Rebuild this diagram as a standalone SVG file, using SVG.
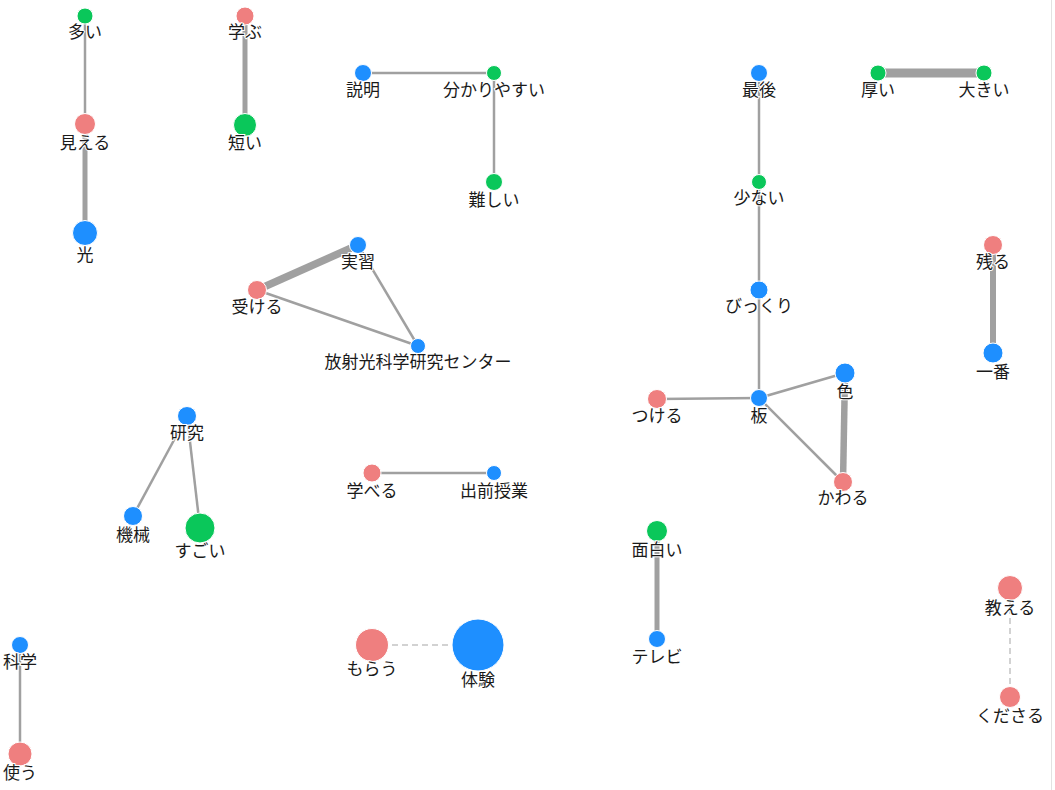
<svg xmlns="http://www.w3.org/2000/svg" width="1055" height="790" viewBox="0 0 1055 790">
<style>
.e{stroke:#a0a0a0;stroke-linecap:butt;fill:none}
.d{stroke:#c4c4c4;stroke-width:1.5;stroke-dasharray:6,4;fill:none}
.g{fill:#0ac75a;stroke:#fff;stroke-width:1}
.b{fill:#1e8fff;stroke:#fff;stroke-width:1}
.p{fill:#ef7f7f;stroke:#fff;stroke-width:1}
text{font-family:"Noto Sans CJK JP","Noto Sans",sans-serif;font-size:17px;fill:#1a1a1a;text-anchor:middle;stroke:#fff;stroke-width:2;paint-order:stroke}
</style>
<rect width="1055" height="790" fill="#fff"/>
<line x1="1051.5" y1="0" x2="1051.5" y2="790" stroke="#e2e2e2" stroke-width="1"/>
<g id="edges">
<line class="e" x1="85" y1="16" x2="85" y2="124" stroke-width="2.5"/>
<line class="e" x1="85" y1="124" x2="85" y2="233" stroke-width="5"/>
<line class="e" x1="245" y1="16" x2="245" y2="125" stroke-width="5"/>
<line class="e" x1="363" y1="73" x2="494" y2="73" stroke-width="2.5"/>
<line class="e" x1="494" y1="73" x2="494" y2="182" stroke-width="2.5"/>
<line class="e" x1="257" y1="290" x2="358" y2="245" stroke-width="7.5"/>
<line class="e" x1="257" y1="290" x2="418" y2="346" stroke-width="2.5"/>
<line class="e" x1="358" y1="245" x2="418" y2="346" stroke-width="2.5"/>
<line class="e" x1="759" y1="73" x2="759" y2="182" stroke-width="2.5"/>
<line class="e" x1="759" y1="182" x2="759" y2="290" stroke-width="2.5"/>
<line class="e" x1="759" y1="290" x2="759" y2="398" stroke-width="2.5"/>
<line class="e" x1="657" y1="399" x2="759" y2="398" stroke-width="2.5"/>
<line class="e" x1="759" y1="398" x2="845" y2="373" stroke-width="2.5"/>
<line class="e" x1="759" y1="398" x2="843" y2="482" stroke-width="2.5"/>
<line class="e" x1="845" y1="373" x2="843" y2="482" stroke-width="6.5"/>
<line class="e" x1="878" y1="73" x2="984" y2="73" stroke-width="9"/>
<line class="e" x1="993" y1="245" x2="993" y2="353" stroke-width="6"/>
<line class="e" x1="187" y1="416" x2="133" y2="516" stroke-width="2.5"/>
<line class="e" x1="187" y1="416" x2="200" y2="528" stroke-width="2.5"/>
<line class="e" x1="372" y1="473" x2="494" y2="473" stroke-width="2.5"/>
<line class="e" x1="20" y1="645" x2="20" y2="754" stroke-width="2.5"/>
<line class="d" x1="372" y1="645" x2="478" y2="645"/>
<line class="e" x1="657" y1="531" x2="657" y2="639" stroke-width="5"/>
<line class="d" x1="1010" y1="588" x2="1010" y2="697"/>
</g>
<g id="n-ooi"><circle class="g" cx="85" cy="16" r="8"/><text x="85" y="38">多い</text></g>
<g id="n-mieru"><circle class="p" cx="85" cy="124" r="10.5"/><text x="85" y="149">見える</text></g>
<g id="n-hikari"><circle class="b" cx="85" cy="233" r="12.5"/><text x="85" y="261">光</text></g>
<g id="n-manabu"><circle class="p" cx="245" cy="16" r="9"/><text x="245" y="38">学ぶ</text></g>
<g id="n-mijikai"><circle class="g" cx="245" cy="125" r="11.5"/><text x="245" y="149">短い</text></g>
<g id="n-setsumei"><circle class="b" cx="363" cy="73" r="8.5"/><text x="363" y="96">説明</text></g>
<g id="n-wakariyasui"><circle class="g" cx="494" cy="73" r="7.5"/><text x="494" y="96">分かりやすい</text></g>
<g id="n-muzukashii"><circle class="g" cx="494" cy="182" r="8.5"/><text x="494" y="206">難しい</text></g>
<g id="n-jisshu"><circle class="b" cx="358" cy="245" r="8.5"/><text x="358" y="268">実習</text></g>
<g id="n-ukeru"><circle class="p" cx="257" cy="290" r="9.5"/><text x="257" y="313">受ける</text></g>
<g id="n-center"><circle class="b" cx="418" cy="346" r="7.5"/><text x="418" y="368">放射光科学研究センター</text></g>
<g id="n-saigo"><circle class="b" cx="759" cy="73" r="8.5"/><text x="759" y="96">最後</text></g>
<g id="n-sukunai"><circle class="g" cx="759" cy="182" r="7.5"/><text x="759" y="204">少ない</text></g>
<g id="n-bikkuri"><circle class="b" cx="759" cy="290" r="9"/><text x="759" y="312">びっくり</text></g>
<g id="n-ita"><circle class="b" cx="759" cy="398" r="8.5"/><text x="759" y="422">板</text></g>
<g id="n-tsukeru"><circle class="p" cx="657" cy="399" r="9.5"/><text x="657" y="422">つける</text></g>
<g id="n-iro"><circle class="b" cx="845" cy="373" r="10"/><text x="845" y="398">色</text></g>
<g id="n-kawaru"><circle class="p" cx="843" cy="482" r="9.5"/><text x="843" y="504">かわる</text></g>
<g id="n-atsui"><circle class="g" cx="878" cy="73" r="8"/><text x="878" y="96">厚い</text></g>
<g id="n-ookii"><circle class="g" cx="984" cy="73" r="8"/><text x="984" y="96">大きい</text></g>
<g id="n-nokoru"><circle class="p" cx="993" cy="245" r="9.5"/><text x="993" y="268">残る</text></g>
<g id="n-ichiban"><circle class="b" cx="993" cy="353" r="10"/><text x="993" y="378">一番</text></g>
<g id="n-kenkyu"><circle class="b" cx="187" cy="416" r="9.5"/><text x="187" y="439">研究</text></g>
<g id="n-kikai"><circle class="b" cx="133" cy="516" r="9.5"/><text x="133" y="541">機械</text></g>
<g id="n-sugoi"><circle class="g" cx="200" cy="528" r="15"/><text x="200" y="557">すごい</text></g>
<g id="n-manaberu"><circle class="p" cx="372" cy="473" r="9"/><text x="372" y="497">学べる</text></g>
<g id="n-demae"><circle class="b" cx="494" cy="473" r="7.5"/><text x="494" y="497">出前授業</text></g>
<g id="n-kagaku"><circle class="b" cx="20" cy="645" r="8.5"/><text x="20" y="668">科学</text></g>
<g id="n-tsukau"><circle class="p" cx="20" cy="754" r="12"/><text x="20" y="779">使う</text></g>
<g id="n-morau"><circle class="p" cx="372" cy="645" r="16.5"/><text x="372" y="675">もらう</text></g>
<g id="n-taiken"><circle class="b" cx="478" cy="645" r="26"/><text x="478" y="686">体験</text></g>
<g id="n-omoshiroi"><circle class="g" cx="657" cy="531" r="10.5"/><text x="657" y="556">面白い</text></g>
<g id="n-terebi"><circle class="b" cx="657" cy="639" r="8.5"/><text x="657" y="663">テレビ</text></g>
<g id="n-oshieru"><circle class="p" cx="1010" cy="588" r="12.5"/><text x="1010" y="614">教える</text></g>
<g id="n-kudasaru"><circle class="p" cx="1010" cy="697" r="10.5"/><text x="1010" y="722">くださる</text></g>
</svg>
